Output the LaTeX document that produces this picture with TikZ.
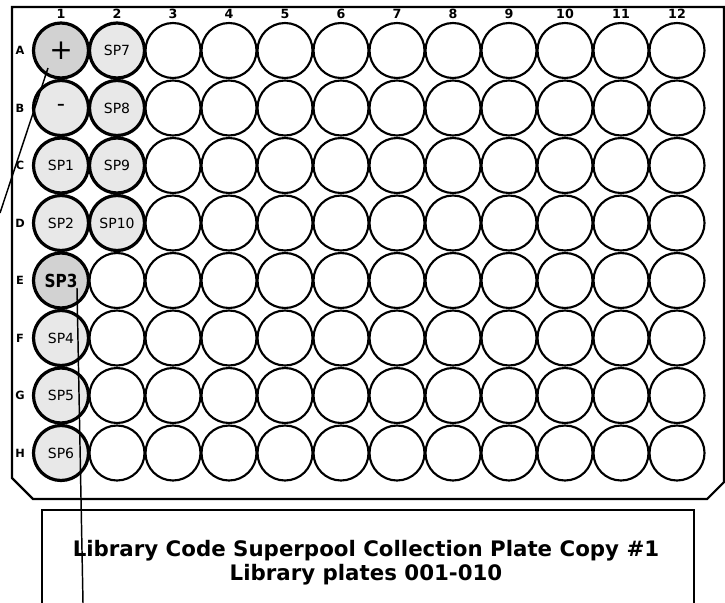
\documentclass[tikz,border=0pt]{standalone}
\usepackage{fontspec}
\setmainfont{DejaVu Sans}
\begin{document}
\begin{tikzpicture}[x=0.75pt,y=-0.75pt,
  well/.style={circle,draw=black,line width=1.6pt,minimum size=41.25pt,inner sep=0pt,fill=white},
  fullwell/.style={well,line width=2.4pt,fill=gray!18,font=\fontsize{10.5}{12}\selectfont},
  darkwell/.style={fullwell,fill=gray!35},
  collab/.style={font=\bfseries\fontsize{9.5}{10}\selectfont,inner sep=0pt},
  rowlab/.style={font=\bfseries\fontsize{8.5}{9}\selectfont,inner sep=0pt},
  frame/.style={line width=1.6pt,line join=miter},
  pointer/.style={line width=1.1pt}]
\useasboundingbox (0,0) rectangle (725,603);
% plate outline
\draw[frame] (12,7) -- (724,7) -- (724,482) -- (707,499) -- (33,499) -- (12,478) -- cycle;
% column labels
\foreach \c in {1,...,12}{
  \node[collab] (col\c) at ({61+(\c-1)*56},14) {\c};
}
% row labels and empty wells
\foreach \r/\l in {1/A,2/B,3/C,4/D,5/E,6/F,7/G,8/H}{
  \node[rowlab] (row\l) at (20,{50.5+(\r-1)*57.5}) {\l};
  \foreach \c in {3,...,12}{
    \node[well] (w\l\c) at ({61+(\c-1)*56},{50.5+(\r-1)*57.5}) {};
  }
}
\foreach \r/\l in {5/E,6/F,7/G,8/H}{
  \node[well] (w\l2) at (117,{50.5+(\r-1)*57.5}) {};
}
% filled wells, column 1
\node[darkwell,font=\fontsize{21}{22}\selectfont] (wA1) at (61,50.5) {+};
\node[fullwell,font=\fontsize{17}{18}\selectfont] (wB1) at (61,108) {-};
\node[fullwell] (wC1) at (61,165.5) {SP1};
\node[fullwell] (wD1) at (61,223) {SP2};
\node[darkwell,font=\bfseries\fontsize{13.5}{15}\selectfont] (wE1) at (61,280.5) {\scalebox{0.85}[1]{SP3}};
\node[fullwell] (wF1) at (61,338) {SP4};
\node[fullwell] (wG1) at (61,395.5) {SP5};
\node[fullwell] (wH1) at (61,453) {SP6};
% filled wells, column 2
\node[fullwell] (wA2) at (117,50.5) {SP7};
\node[fullwell] (wB2) at (117,108) {SP8};
\node[fullwell] (wC2) at (117,165.5) {SP9};
\node[fullwell] (wD2) at (117,223) {SP10};
% label box
\draw[frame] (42,620) -- (42,510) -- (694,510) -- (694,620);
\node[font=\bfseries\fontsize{16}{18}\selectfont,align=center,inner sep=0pt] (title) at (366,563)
  {Library Code Superpool Collection Plate Copy \#1\\Library plates 001-010};
% pointer lines
\coordinate (a1tip) at (48,68);
\coordinate (leftend) at (0,213);
\coordinate (e1tip) at (77,288);
\coordinate (bottomend) at (83,603);
\draw[pointer] (a1tip) -- (leftend);
\draw[pointer] (e1tip) -- (bottomend);
\end{tikzpicture}
\end{document}
